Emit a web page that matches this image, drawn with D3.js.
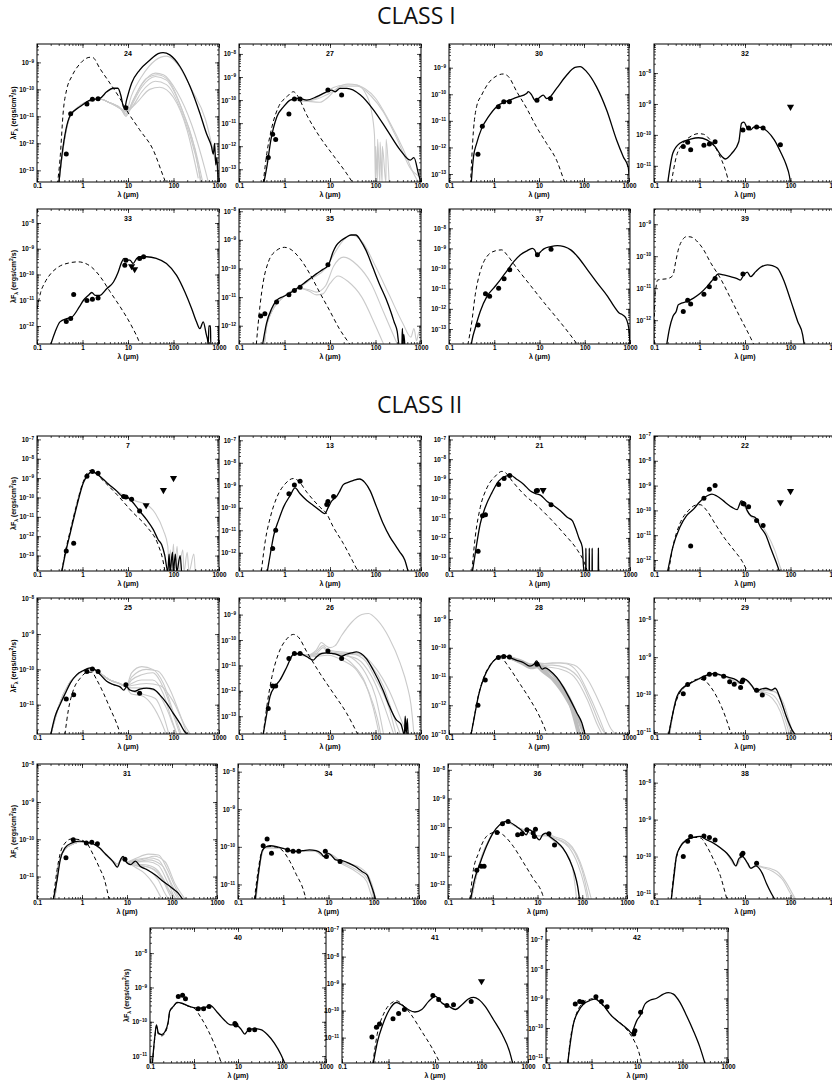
<!DOCTYPE html>
<html>
<head>
<meta charset="utf-8">
<script src="https://cdnjs.cloudflare.com/ajax/libs/d3/7.8.5/d3.min.js"></script>
<style>
  body { margin: 0; background: #fff; }
  svg { display: block; }
</style>
</head>
<body>
<svg id="chart" width="832" height="1088"></svg>
<script>
// ---------- shared axis values ----------
const xDomain = [0.1, 1000];
const xTickValues = [0.1, 1, 10, 100, 1000];
const xTickLabels = ["0.1", "1", "10", "100", "1000"];

// ---------- CLASS I ----------
// source 24
const yDom24 = [3.7e-14, 4.8e-9];
const fit24 = [[0.30,3e-14],[0.35,3.2e-13],[0.42,2.5e-12],[0.54,1.1e-11],[0.89,2.3e-11],[1.47,4.0e-11],[2.44,4.7e-11],[3.4,8.1e-11],[4.7,1.1e-10],[6.0,1.1e-10],[6.9,6.3e-11],[7.9,2.3e-11],[8.4,2.0e-11],[9.3,4.0e-11],[12,1.7e-10],[18,5.2e-10],[30,1.2e-9],[46,2.1e-9],[59,2.3e-9],[83,1.9e-9],[140,6.9e-10],[230,1.3e-10],[380,1.3e-11],[530,2.3e-12],[680,7.9e-13],[750,4e-13],[800,1e-12],[850,1.6e-13],[900,3e-13],[960,3e-14]];
const star24 = [[0.28,3e-14],[0.32,2.5e-13],[0.38,1.7e-11],[0.45,1.0e-10],[0.58,3.0e-10],[0.89,9.1e-10],[1.47,1.55e-9],[1.7,1.5e-9],[2.4,6.0e-10],[4.0,1.7e-10],[6.6,4.7e-11],[9.3,1.7e-11],[18,3.2e-12],[36,5.6e-13],[59,6.3e-14],[70,3e-14]];
const obs24 = [[0.44,4e-13],[0.55,1.25e-11],[1.25,2.9e-11],[1.65,4.3e-11],[2.2,4.5e-11],[9,2.1e-11]];
const lim24 = [];
const pre24 = [[0.3,3e-14],[0.36,4e-13],[0.55,1.1e-11],[1.5,3.8e-11],[2.5,4.3e-11],[4,3.2e-11],[7,1.9e-11]];
const tails24 = [
  [[9,1.5e-11],[12,6e-11],[20,3e-10],[40,1.2e-9],[70,1.7e-9],[120,9e-10],[250,1e-10],[500,8e-12],[800,3e-13],[1000,5e-14]],
  [[9,1.2e-11],[12,3e-11],[20,1.5e-10],[40,4e-10],[60,3.5e-10],[120,8e-11],[250,5e-12],[500,1e-13],[600,3e-14]],
  [[9,1e-11],[12,2.5e-11],[20,1.2e-10],[40,3e-10],[70,2.2e-10],[150,2e-11],[300,6e-13],[450,3e-14]],
  [[9,1.3e-11],[13,2.5e-11],[20,8e-11],[40,2e-10],[70,1.5e-10],[150,1.5e-11],[300,4e-13],[420,3e-14]],
  [[9,1.6e-11],[15,3e-11],[30,1e-10],[50,1.2e-10],[100,5e-11],[200,3e-12],[350,5e-14]],
  [[9,1.1e-11],[13,4e-11],[25,2.5e-10],[45,3.5e-10],[80,2e-10],[160,1.5e-11],[320,3e-13],[400,3e-14]]
];

// source 27
const yDom27 = [2.8e-14, 2.7e-8];
const fit27 = [[0.35,2.5e-14],[0.41,1.3e-13],[0.5,1.8e-12],[0.68,1.9e-11],[0.95,5.1e-11],[1.33,1.0e-10],[2.0,1.2e-10],[3.1,1.0e-10],[5.1,1.4e-10],[7.8,2.1e-10],[10.9,2.7e-10],[13,2.3e-10],[16.6,3.2e-10],[23.5,3.2e-10],[46,1.7e-10],[91,3.7e-11],[180,5e-12],[350,6.8e-13],[580,2.5e-13],[700,3.2e-13],[880,6.3e-14],[1000,2.5e-14]];
const star27 = [[0.34,2.5e-14],[0.41,5e-13],[0.53,6.9e-12],[0.74,5.1e-11],[1.13,1.4e-10],[1.57,2.3e-10],[1.87,1.7e-10],[3.1,2.2e-11],[6.0,2.5e-12],[11.8,4e-13],[23.5,6.3e-14],[32,2.5e-14]];
const obs27 = [[0.44,3.2e-13],[0.55,3.3e-12],[0.64,1.95e-12],[1.25,2.5e-11],[1.65,1.1e-10],[2.2,1.1e-10],[9,2.7e-10],[18,1.66e-10]];
const lim27 = [];
const alt27 = [
  [[1.5,1.0e-10],[3,9e-11],[5,1.2e-10],[8,2.2e-10],[12,3.5e-10],[20,4.5e-10],[35,4.5e-10],[60,3e-10],[100,1.2e-10],[200,1.2e-11],[400,8e-13],[700,6e-14],[900,2.5e-14]],
  [[1.5,1.0e-10],[3,9e-11],[6,8e-11],[9,1.3e-10],[15,3.5e-10],[25,5e-10],[40,4.5e-10],[60,2e-10],[80,4e-11],[95,3e-12],[100,2.5e-14],[101,1e-12],[110,2.5e-14],[111,2e-12],[125,2.5e-14],[126,1.5e-12],[140,2.5e-14],[141,1e-12],[170,2.5e-14],[171,2e-12],[200,2.5e-14]],
  [[1.5,1.0e-10],[4,1e-10],[9,1.8e-10],[20,4e-10],[40,4e-10],[80,1.5e-10],[150,3e-11],[300,2e-12],[600,1e-13],[900,5e-14]]
];

// source 30
const yDom30 = [5e-14, 7.8e-9];
const fit30 = [[0.31,4e-14],[0.35,4.4e-13],[0.41,1.4e-12],[0.53,5.1e-12],[0.75,1.4e-11],[1.14,3.4e-11],[1.91,5.5e-11],[3.2,7.6e-11],[5.3,1.07e-10],[5.8,1.26e-10],[6.9,9.3e-11],[8.1,6.0e-11],[9.6,6.9e-11],[12.4,9.3e-11],[14.8,6.9e-11],[17.5,7.9e-11],[24.6,1.66e-10],[41,5.2e-10],[63,1.02e-9],[82,1.1e-9],[114,7.1e-10],[190,1.9e-10],[320,2.5e-11],[530,1.9e-12],[750,4.4e-13],[960,1.8e-13],[1000,1e-13]];
const star30 = [[0.3,4e-14],[0.35,4.5e-12],[0.41,3.4e-11],[0.53,9.3e-11],[0.75,2.6e-10],[1.14,4.9e-10],[1.6,5.8e-10],[2.1,4.6e-10],[3.2,1.26e-10],[5.3,3.0e-11],[8.8,5.9e-12],[14.8,1.4e-12],[24.6,3.3e-13],[37,5e-14],[40,3.5e-14]];
const obs30 = [[0.44,5.5e-13],[0.55,6.3e-12],[1.25,3.4e-11],[1.65,5.2e-11],[2.2,5.2e-11],[9,6.0e-11],[18,6.9e-11]];
const lim30 = [];

// source 32
const yDom32 = [3e-12, 8.7e-8];
const fit32 = [[0.2,2.8e-12],[0.26,2.6e-11],[0.37,5.4e-11],[0.62,7.2e-11],[0.95,8.1e-11],[1.45,6.9e-11],[2.2,4.2e-11],[3.1,2.0e-11],[3.7,1.66e-11],[5.2,2.6e-11],[7.3,6.0e-11],[8.4,2.4e-10],[9.5,2.6e-10],[11.2,1.66e-10],[13.3,1.45e-10],[15.8,1.8e-10],[22,1.74e-10],[31,1.3e-10],[44,6.9e-11],[62,2.6e-11],[80,1.1e-11],[95,4.6e-12],[100,2.8e-12]];
const star32 = [[0.24,2.8e-12],[0.31,2.0e-11],[0.44,5.4e-11],[0.67,9.3e-11],[0.95,1.1e-10],[1.23,1.05e-10],[1.72,6.9e-11],[2.6,2.6e-11],[3.7,7.4e-12],[4.4,3.2e-12],[4.8,2.5e-12]];
const obs32 = [[0.44,4.2e-11],[0.55,5.8e-11],[0.64,3.3e-11],[1.25,4.6e-11],[1.65,5.1e-11],[2.2,6.0e-11],[9,1.45e-10],[12,1.66e-10],[18,1.8e-10],[25,1.66e-10],[60,4.8e-11]];
const lim32 = [[100,8.1e-10]];

// source 33
const yDom33 = [2.0e-13, 3.5e-8];
const fit33 = [[0.2,1.9e-13],[0.25,5.9e-13],[0.32,1.45e-12],[0.45,1.95e-12],[0.58,2.2e-12],[0.85,5.5e-12],[1.05,1.0e-11],[1.35,1.55e-11],[1.6,2.0e-11],[1.9,1.55e-11],[2.4,1.55e-11],[3.4,2.8e-11],[4.8,5.1e-11],[6.1,1.26e-10],[7.3,3.1e-10],[8.2,4.2e-10],[9.3,3.6e-10],[11,3.6e-10],[13,2.7e-10],[15.5,4.2e-10],[18.3,4.9e-10],[25.6,4.9e-10],[42,4.2e-10],[70,2.7e-10],[117,9.3e-11],[178,2.1e-11],[250,4.8e-12],[320,1.45e-12],[380,7.9e-13],[450,1.45e-12],[530,4.4e-13],[560,3e-13],[580,1.9e-13],[600,1e-12],[650,1e-12],[660,1.9e-13],[980,1.9e-13],[990,1e-12],[1000,1.9e-13]];
const star33 = [[0.1,4.5e-12],[0.12,2.0e-11],[0.15,5.0e-11],[0.2,1.07e-10],[0.3,2.0e-10],[0.5,2.8e-10],[0.8,3.1e-10],[1.1,2.8e-10],[1.6,1.9e-10],[2.5,7.9e-11],[4,2.2e-11],[7,5.0e-12],[12,1.0e-12],[18,2.2e-13],[20,1.3e-13]];
const obs33 = [[0.44,1.5e-12],[0.55,1.95e-12],[0.64,1.66e-11],[1.25,9.8e-12],[1.65,1.1e-11],[2.2,1.23e-11],[8.5,2.3e-10],[9,3.6e-10],[18,4.2e-10],[22,4.9e-10]];
const lim33 = [[12,2.1e-10],[14,1.6e-10]];

// source 35
const yDom35 = [2.3e-13, 1.2e-8];
const fit35 = [[0.33,2.2e-13],[0.4,1.17e-12],[0.52,3.9e-12],[0.67,7.6e-12],[0.94,1.05e-11],[1.31,1.38e-11],[1.83,1.95e-11],[2.6,2.95e-11],[3.6,4.4e-11],[5.0,6.5e-11],[7.0,9.3e-11],[9.0,1.26e-10],[9.8,1.66e-10],[11.6,3.7e-10],[13.7,6.3e-10],[17.6,9.5e-10],[22.6,1.23e-9],[29,1.48e-9],[37,1.48e-9],[47,9.5e-10],[62,4.3e-10],[87,1.12e-10],[121,2.95e-11],[170,8.7e-12],[218,3.0e-12],[257,1.35e-12],[300,6.3e-13],[330,2.2e-13],[380,2.2e-13],[390,8e-13],[400,2.2e-13],[420,5e-13],[440,2.2e-13]];
const star35 = [[0.24,2.2e-13],[0.29,5.1e-12],[0.34,3.3e-11],[0.44,1.66e-10],[0.67,4.3e-10],[1.0,5.5e-10],[1.3,4.9e-10],[2.2,2.2e-10],[3.6,6.5e-11],[5.9,1.48e-11],[9.8,3.4e-12],[16,7.9e-13],[27,2.3e-13],[30,1.8e-13]];
const obs35 = [[0.3,2.2e-12],[0.37,2.6e-12],[0.67,6.8e-12],[1.25,1.2e-11],[1.65,1.7e-11],[2.2,2.2e-11],[9,1.35e-10]];
const lim35 = [];
const alt35 = [
  [[0.36,2.3e-13],[0.42,1.3e-12],[1,1.1e-11],[2.2,2.2e-11],[4,4.5e-11],[8,1e-10],[12,3e-10],[20,1e-9],[30,1.5e-9],[50,9e-10],[100,1.2e-10],[200,1.2e-11],[400,1.2e-12],[600,4e-13],[700,8e-13],[800,3e-13],[900,6e-13],[1000,2.3e-13]],
  [[0.36,2.3e-13],[0.42,1.3e-12],[1,1.1e-11],[2.2,2e-11],[3.5,1.8e-11],[5,1.5e-11],[8,2.5e-11],[12,1.2e-10],[20,2.5e-10],[40,1.3e-10],[80,3e-11],[150,3e-12],[300,2.3e-13]],
  [[0.36,2.3e-13],[0.42,1.3e-12],[1,1.1e-11],[2.2,2e-11],[3.5,1.6e-11],[5,1.2e-11],[7,1.3e-11],[10,3e-11],[15,5.5e-11],[25,3.5e-11],[50,1e-11],[100,1e-12],[150,2.3e-13]]
];

// source 37
const yDom37 = [1.8e-14, 9.1e-8];
const fit37 = [[0.31,1.6e-14],[0.32,2.5e-14],[0.38,1.12e-13],[0.49,7.4e-13],[0.69,4.2e-12],[0.97,1.07e-11],[1.36,2.75e-11],[1.91,7.8e-11],[2.7,2.2e-10],[3.8,4.8e-10],[5.3,7.6e-10],[6.9,1.02e-9],[7.8,8.5e-10],[8.9,4.8e-10],[10.6,6.9e-10],[12.5,9.5e-10],[17.6,1.23e-9],[24.8,1.38e-9],[35,1.23e-9],[49,8.5e-10],[69,4.0e-10],[115,8.7e-11],[190,1.9e-11],[320,4.2e-12],[445,1.32e-12],[575,6.2e-13],[680,5.1e-13],[810,3.5e-13],[960,7.9e-14],[1000,1.5e-14]];
const star37 = [[0.26,1.6e-14],[0.32,2.4e-13],[0.38,5e-12],[0.49,7.1e-11],[0.69,4.0e-10],[1.05,7.6e-10],[1.47,8.5e-10],[1.91,4.8e-10],[3.2,1.0e-10],[6.4,1.4e-11],[12.5,2.1e-12],[25,3.2e-13],[50,4.5e-14],[70,1.6e-14]];
const obs37 = [[0.44,1.6e-13],[0.64,5.6e-12],[0.79,4.2e-12],[1.25,1.07e-11],[1.65,3.1e-11],[2.2,8.7e-11],[9,4.8e-10],[18,9.1e-10]];
const lim37 = [];

// source 39
const yDom39 = [1.8e-13, 3.0e-9];
const fit39 = [[0.19,1.7e-13],[0.22,5.6e-13],[0.26,1.3e-12],[0.31,1.95e-12],[0.34,3.0e-12],[0.4,3.4e-12],[0.52,3.8e-12],[0.74,4.9e-12],[1.04,6.9e-12],[1.46,1.12e-11],[2.05,2.0e-11],[2.6,2.8e-11],[3.4,2.6e-11],[4.8,2.3e-11],[6.7,2.0e-11],[7.9,1.8e-11],[9.4,2.6e-11],[11.2,3.2e-11],[13.3,2.3e-11],[17.2,3.3e-11],[22,4.5e-11],[31,5.4e-11],[40,5.1e-11],[52,4.2e-11],[73,1.6e-11],[103,3.8e-12],[144,9.1e-13],[185,3.5e-13],[200,1.7e-13]];
const star39 = [[0.1,1.7e-13],[0.105,6e-12],[0.11,1.0e-11],[0.12,1.8e-11],[0.15,1.9e-11],[0.2,2.0e-11],[0.26,2.5e-11],[0.3,6.8e-11],[0.35,1.8e-10],[0.42,3.2e-10],[0.52,4.1e-10],[0.65,4.0e-10],[0.87,3.0e-10],[1.23,1.6e-10],[1.7,6.8e-11],[2.9,2.0e-11],[4.8,4.9e-12],[8,1.15e-12],[13.3,2.8e-13],[16,1.6e-13]];
const obs39 = [[0.44,1.86e-12],[0.55,4.2e-12],[0.64,3.2e-12],[1.25,6.5e-12],[1.65,1.12e-11],[2.2,2.0e-11],[9,2.8e-11]];
const lim39 = [];

// ---------- CLASS II ----------
// source 7
const yDom7 = [1.6e-14, 1.5e-7];
const fit7 = [[0.35,1.5e-14],[0.42,1.3e-13],[0.54,1.5e-12],[0.75,3.6e-11],[1.05,6.0e-10],[1.29,1.35e-9],[1.6,2.2e-9],[2.05,1.66e-9],[2.8,9.1e-10],[3.7,5.0e-10],[5.6,2.2e-10],[7.3,1.23e-10],[9.3,1.12e-10],[12,6.6e-11],[18,2.0e-11],[25.6,7.2e-12],[36,2.2e-12],[46,6.6e-13],[55,3.6e-13],[64,1.07e-13],[75,1.5e-14],[80,1.2e-13],[84,1.5e-14],[95,1.5e-13],[99,1.5e-14],[110,1.2e-13],[118,1.5e-14],[140,1e-13],[150,1.5e-14]];
const star7 = [[0.35,1.5e-14],[0.42,1.6e-13],[0.54,2.0e-12],[0.75,4.5e-11],[1.05,7.0e-10],[1.47,2.5e-9],[1.75,2.2e-9],[2.5,1.0e-9],[5.6,1.48e-10],[13,1.62e-11],[25.6,3.2e-12],[46,3.6e-13],[58,6.3e-14],[65,1.5e-14]];
const obs7 = [[0.44,1.74e-13],[0.64,4.4e-13],[1.25,1.26e-9],[1.65,2.2e-9],[2.2,1.8e-9],[8,1.12e-10],[9,1.07e-10],[12,8.1e-11],[18,2.0e-11]];
const lim7 = [[25,4.0e-11],[60,2.4e-10],[100,1.0e-9]];
const alt7 = [
  [[0.36,1.5e-14],[0.5,8e-13],[1,5e-10],[1.6,2.2e-9],[3,8e-10],[6,2e-10],[9,1.15e-10],[15,6.5e-11],[25,4.5e-11],[40,1.5e-11],[60,2e-12],[75,3e-13],[80,1.5e-14],[85,2e-13],[90,1.5e-14],[100,4e-13],[105,1.5e-14],[120,3e-13],[130,1.5e-14],[160,2e-13],[170,1.5e-14],[200,1.5e-13],[220,1.5e-14],[280,1.2e-13],[300,1.5e-14]]
];

// source 13
const yDom13 = [1.55e-13, 1.55e-7];
const fit13 = [[0.42,1.5e-13],[0.49,9.3e-13],[0.58,6.0e-12],[0.74,2.75e-11],[0.95,1.07e-10],[1.33,3.5e-10],[1.71,7.6e-10],[2.2,4.2e-10],[3.1,2.1e-10],[4.3,1.26e-10],[6.0,7.6e-11],[7.7,5.5e-11],[9.2,1.07e-10],[10.8,1.95e-10],[14,3.2e-10],[16.6,5.8e-10],[19.6,1.07e-9],[25,1.35e-9],[32,1.62e-9],[45,1.9e-9],[58,1.35e-9],[76,5.8e-10],[106,1.07e-10],[148,1.95e-11],[207,5.1e-12],[290,1.8e-12],[340,1.1e-12],[440,4.8e-13],[520,1.5e-13]];
const star13 = [[0.31,1.5e-13],[0.38,3.6e-12],[0.49,3.9e-11],[0.68,2.95e-10],[1.03,1.15e-9],[1.57,2.0e-9],[2.0,1.6e-9],[3.1,4.9e-10],[6.0,1.07e-10],[8.4,5.5e-11],[11.8,1.4e-11],[19.6,2.6e-12],[32,4e-13],[41,1.5e-13]];
const obs13 = [[0.55,1.55e-12],[0.64,1.0e-11],[1.25,4.2e-10],[1.65,1.02e-9],[2.2,1.5e-9],[8.5,1.4e-10],[9,1.9e-10],[12,3.2e-10]];
const lim13 = [];

// source 21
const yDom21 = [2.1e-14, 1.5e-7];
const fit21 = [[0.33,2e-14],[0.38,1.66e-13],[0.49,5.2e-12],[0.63,3.5e-11],[0.89,2.0e-10],[1.25,7.6e-10],[1.75,1.35e-9],[2.3,1.5e-9],[3.2,9.3e-10],[4.5,5.2e-10],[6.3,2.4e-10],[8.1,1.8e-10],[10.5,1.5e-10],[14.8,7.1e-11],[20.7,4.3e-11],[29,2.4e-11],[41,1.12e-11],[53,7.6e-12],[63,3.0e-12],[75,9.3e-13],[88,3.5e-13],[96,2e-14],[105,2e-14],[106,3e-13],[107,2e-14],[125,2e-14],[126,3e-13],[127,2e-14],[145,2e-14],[146,3e-13],[147,2e-14],[198,2e-14],[200,3e-13],[202,2e-14]];
const star21 = [[0.32,2e-14],[0.38,1.12e-12],[0.49,3.5e-11],[0.69,3.5e-10],[1.05,1.35e-9],[1.47,2.4e-9],[1.75,2.1e-9],[2.5,7.6e-10],[4.5,1.66e-10],[8.9,4.3e-11],[17.5,9.3e-12],[34.6,1.66e-12],[69,2.4e-13],[96,6.3e-14],[115,2e-14]];
const obs21 = [[0.44,2.1e-13],[0.55,1.35e-11],[0.64,1.5e-11],[1.25,5.2e-10],[1.65,1.05e-9],[2.2,1.5e-9],[8.5,2.5e-10],[9,2.6e-10],[18,4.8e-11]];
const lim21 = [[12,2.7e-10]];

// source 22
const yDom22 = [3.6e-13, 1e-7];
const fit22 = [[0.2,3.5e-13],[0.26,3.4e-12],[0.37,2.1e-11],[0.52,6.2e-11],[0.74,1.12e-10],[1.03,2.3e-10],[1.45,3.8e-10],[1.87,4.5e-10],[2.4,3.8e-10],[3.7,2.1e-10],[5.2,1.32e-10],[6.7,1.07e-10],[8.3,2.4e-10],[9.5,2.1e-10],[11.2,9.8e-11],[13.3,6.2e-11],[17.2,5e-11],[22,2.1e-11],[28.8,1e-11],[37,2.9e-12],[48,8.5e-13],[57,3.5e-13]];
const star22 = [[0.21,3.5e-13],[0.26,3.4e-12],[0.37,2.9e-11],[0.57,9.8e-11],[0.81,1.62e-10],[1.03,1.7e-10],[1.45,9.8e-11],[2.2,2.9e-11],[3.4,8.5e-12],[5.7,2.5e-12],[8.8,8.5e-13],[11.2,3.5e-13]];
const obs22 = [[0.64,3.7e-12],[1.25,3.1e-10],[1.65,7.1e-10],[2.2,1.0e-9],[9,1.9e-10],[9.5,1.8e-10],[12,1.41e-10],[18,3.9e-11],[25,2.45e-11]];
const lim22 = [[60,2.1e-10],[100,6.0e-10]];
const alt22 = [
  [[9,1.9e-10],[13,6e-11],[20,3.5e-11],[30,1.2e-11],[45,2.5e-12],[60,5e-13],[65,3.5e-13]]
];

// source 25
const yDom25 = [1.48e-12, 1.05e-8];
const fit25 = [[0.2,1.4e-12],[0.25,4.7e-12],[0.32,1.0e-11],[0.42,2.1e-11],[0.54,4.1e-11],[0.75,7.1e-11],[1.05,9.3e-11],[1.47,1.1e-10],[1.9,9.8e-11],[2.45,7.1e-11],[3.4,4.6e-11],[4.8,3.7e-11],[6.7,3.2e-11],[8.1,2.6e-11],[9.3,3.2e-11],[11,2.6e-11],[14,2.4e-11],[18.3,2.75e-11],[25.6,2.95e-11],[36,2.75e-11],[50,1.9e-11],[70,1.12e-11],[98,5.8e-12],[137,3.0e-12],[175,1.74e-12],[208,1.4e-12]];
const star25 = [[0.41,1.4e-12],[0.49,7.2e-12],[0.63,2.6e-11],[0.89,5.6e-11],[1.29,8.3e-11],[1.6,8.3e-11],[2.05,5.1e-11],[2.9,2.1e-11],[4.0,8.1e-12],[5.6,3.0e-12],[6.9,1.4e-12]];
const obs25 = [[0.44,1.45e-11],[0.64,1.9e-11],[1.25,8.7e-11],[1.65,1.02e-10],[2.2,8.7e-11],[9,3.7e-11],[18,2.1e-11]];
const lim25 = [];
const pre25 = [[0.2,1.4e-12],[0.3,9e-12],[0.5,3.8e-11],[1,9e-11],[1.6,1.08e-10],[2.5,7.5e-11],[4,5e-11],[7,3.8e-11],[9,3.2e-11]];
const tails25 = [
  [[12,8e-11],[20,1.2e-10],[35,1e-10],[60,4e-11],[100,6e-12],[150,1.4e-12]],
  [[12,5e-11],[20,7e-11],[35,8e-11],[60,3e-11],[100,5e-12],[140,1.4e-12]],
  [[12,4e-11],[20,5e-11],[35,5e-11],[60,2e-11],[90,4e-12],[120,1.4e-12]],
  [[12,3e-11],[20,3e-11],[40,2.5e-11],[70,8e-12],[100,2.5e-12],[120,1.4e-12]],
  [[12,2.5e-11],[20,2e-11],[40,1.5e-11],[60,5e-12],[80,1.4e-12]],
  [[12,3.5e-11],[25,4e-11],[50,3.5e-11],[100,1.2e-11],[180,2.5e-12],[240,1.4e-12]],
  [[12,6e-11],[25,1e-10],[45,9e-11],[80,3e-11],[150,4e-12],[200,1.4e-12]],
  [[12,2e-11],[20,1.8e-11],[30,1.2e-11],[50,4e-12],[70,1.4e-12]]
];

// source 26
const yDom26 = [2.0e-14, 4.5e-9];
const fit26 = [[0.34,1.9e-14],[0.41,1.35e-13],[0.48,6.0e-13],[0.62,1.48e-12],[0.8,2.7e-12],[1.13,8.9e-12],[1.57,2.75e-11],[2.2,2.95e-11],[3.1,2.2e-11],[4.3,1.62e-11],[5.1,2.2e-11],[6.6,2.95e-11],[8.4,3.1e-11],[10.8,2.95e-11],[13.9,2.75e-11],[17.8,2.3e-11],[23,2.75e-11],[29.6,3.1e-11],[38,3.4e-11],[48,2.95e-11],[63,1.86e-11],[89,6.6e-12],[145,1.1e-12],[203,2.45e-13],[284,7.4e-14],[365,4.8e-14],[430,1.9e-14],[450,1e-13],[470,1.9e-14],[500,8e-14],[520,1.9e-14]];
const star26 = [[0.34,1.9e-14],[0.41,2.5e-13],[0.53,3.6e-12],[0.74,2.95e-11],[1.13,1.12e-10],[1.57,1.66e-10],[2.0,1.32e-10],[3.1,3.4e-11],[6.0,4.9e-12],[11.8,8.1e-13],[23,1.35e-13],[41,1.9e-14]];
const obs26 = [[0.44,2.0e-13],[0.55,1.55e-12],[0.64,1.55e-12],[1.25,1.86e-11],[1.65,2.95e-11],[2.2,2.95e-11],[9,3.7e-11],[18,1.86e-11]];
const lim26 = [];
const alt26 = [
  [[1.6,2.8e-11],[3,2.5e-11],[5,4e-11],[6.5,8e-11],[8,6e-11],[10,5e-11],[13,6e-11],[18,1.5e-10],[30,5e-10],[50,1e-9],[70,1.1e-9],[110,6e-10],[200,1.2e-10],[350,1.2e-11],[500,1.5e-12],[600,3e-13],[700,2e-14]],
  [[1.6,2.8e-11],[3,2.5e-11],[5,3.5e-11],[7,6e-11],[9,4e-11],[15,3.5e-11],[30,3e-11],[60,1.5e-11],[100,3e-12],[200,2e-13],[280,2e-14]],
  [[1.6,2.8e-11],[3,2.5e-11],[5,3e-11],[7,5e-11],[9,3.5e-11],[15,3e-11],[30,2e-11],[60,5e-12],[100,6e-13],[150,2e-14]],
  [[1.6,2.8e-11],[3,2.5e-11],[6,3e-11],[9,3e-11],[15,2.5e-11],[30,1.2e-11],[60,2e-12],[90,2e-13],[120,2e-14]],
  [[1.6,2.8e-11],[4,2.5e-11],[9,3.2e-11],[20,3e-11],[40,3e-11],[80,1e-11],[150,1.5e-12],[250,1e-13],[350,2e-14]],
  [[1.6,2.8e-11],[4,2.5e-11],[9,3e-11],[20,2.5e-11],[40,1.8e-11],[80,4e-12],[150,3e-13],[250,2e-14]],
  [[1.6,2.8e-11],[4,2.2e-11],[9,2.5e-11],[20,1.5e-11],[40,6e-12],[70,1e-12],[110,8e-14],[130,2e-14]],
  [[1.6,2.8e-11],[4,2.5e-11],[9,3e-11],[20,2.8e-11],[50,2.5e-11],[100,8e-12],[200,1e-12],[400,5e-14],[500,2e-14]]
];

// source 28
const yDom28 = [1.0e-13, 5.4e-9];
const fit28 = [[0.31,1e-13],[0.37,4.3e-13],[0.45,2.1e-12],[0.58,8.1e-12],[0.83,2.5e-11],[1.15,4.3e-11],[1.6,5.2e-11],[2.2,4.6e-11],[3.0,3.8e-11],[4.4,3.1e-11],[6.3,2.3e-11],[7.8,2.7e-11],[8.8,3.5e-11],[9.9,2.7e-11],[11.8,1.8e-11],[13.7,2.0e-11],[17.6,1.6e-11],[24.8,9.3e-12],[35,4.2e-12],[49,1.6e-12],[69,5.5e-13],[89,2.5e-13],[105,1e-13]];
const star28 = [[0.31,1e-13],[0.37,4.5e-13],[0.45,2.2e-12],[0.58,8.5e-12],[0.83,2.6e-11],[1.36,4.6e-11],[2.2,2.0e-11],[3.6,6.2e-12],[6.3,1.6e-12],[10.6,3.7e-13],[13.7,1.45e-13],[15,1e-13]];
const obs28 = [[0.44,1.0e-12],[0.64,7.6e-12],[1.25,4.6e-11],[1.65,5.0e-11],[2.2,4.8e-11],[9,2.7e-11]];
const lim28 = [];
const band28 = [
  [[2.2,4.6e-11],[4,3.5e-11],[7,2.5e-11],[9,2.8e-11],[12,2.2e-11],[20,1.2e-11],[35,4e-12],[60,8e-13],[90,1.5e-13],[100,1e-13]],
  [[2.2,4.6e-11],[4,3.2e-11],[7,2.2e-11],[9,2.5e-11],[12,1.8e-11],[20,8e-12],[35,2.5e-12],[60,5e-13],[80,1e-13]],
  [[2.2,4.6e-11],[4,3e-11],[7,2e-11],[9,2.2e-11],[12,1.5e-11],[25,6e-12],[50,1e-12],[75,1e-13]]
];
const alt28 = [
  [[2.2,4.6e-11],[4,3.3e-11],[7,2.3e-11],[9,3e-11],[12,2.8e-11],[20,3e-11],[40,2.8e-11],[70,1.5e-11],[120,3e-12],[200,5e-13],[300,1e-13]],
  [[2.2,4.6e-11],[4,3.3e-11],[7,2.3e-11],[9,3e-11],[12,2.5e-11],[20,2.5e-11],[40,2e-11],[80,8e-12],[150,1e-12],[250,1.5e-13],[300,1e-13]],
  [[2.2,4.6e-11],[4,3.3e-11],[7,2.3e-11],[9,3e-11],[15,2.2e-11],[30,1.8e-11],[60,1e-11],[120,1.5e-12],[200,2e-13],[250,1e-13]],
  [[2.2,4.6e-11],[4,3.3e-11],[7,2.3e-11],[9,3e-11],[15,2.8e-11],[30,3e-11],[60,2.5e-11],[120,8e-12],[250,8e-13],[400,1.5e-13],[500,1e-13]]
];

// source 29
const yDom29 = [8.9e-12, 3.8e-8];
const fit29 = [[0.21,8.5e-12],[0.26,3.2e-11],[0.32,8.9e-11],[0.42,1.48e-10],[0.62,2.0e-10],[1.0,2.7e-10],[1.45,3.3e-10],[2.1,3.7e-10],[3.0,3.3e-10],[4.4,2.9e-10],[6.5,2.45e-10],[8.2,2.0e-10],[9.9,2.6e-10],[12,2.2e-10],[14.7,1.62e-10],[17.7,1.2e-10],[21.7,1.38e-10],[28.8,1.48e-10],[38,1.32e-10],[46,1.48e-10],[61,7.2e-11],[81,2.6e-11],[108,1.15e-11],[128,8.5e-12]];
const star29 = [[0.21,8.5e-12],[0.26,3.2e-11],[0.35,1.0e-10],[0.57,1.9e-10],[0.94,2.6e-10],[1.25,2.45e-10],[1.75,1.62e-10],[2.6,7.2e-11],[3.7,2.6e-11],[5,8.5e-12]];
const obs29 = [[0.44,1.05e-10],[0.55,1.86e-10],[1.25,2.8e-10],[1.65,3.5e-10],[2.2,3.5e-10],[3.4,3.1e-10],[4.6,2.2e-10],[5.8,1.9e-10],[8,1.55e-10],[8.6,2.2e-10],[9,2.45e-10],[18,1.32e-10],[24,9.8e-11]];
const lim29 = [];
const pre29 = [[0.22,8.5e-12],[0.3,7e-11],[0.5,1.7e-10],[1,2.6e-10],[2,3.5e-10],[4,2.9e-10],[8,2e-10],[10,2.5e-10],[13,1.9e-10]];
const tails29 = [
  [[18,1.3e-10],[25,1.2e-10],[40,1e-10],[60,5e-11],[80,1.8e-11],[95,8.5e-12]],
  [[18,1.2e-10],[25,1.1e-10],[40,8e-11],[60,3.5e-11],[75,1.5e-11],[85,8.5e-12]],
  [[18,1.3e-10],[25,1.3e-10],[45,1.2e-10],[70,6e-11],[100,1.5e-11],[115,8.5e-12]],
  [[18,1.4e-10],[30,1.4e-10],[50,1.1e-10],[70,4.5e-11],[90,1.6e-11],[105,8.5e-12]]
];

// source 31
const yDom31 = [2.5e-12, 1.05e-8];
const fit31 = [[0.23,2.4e-12],[0.28,8.3e-12],[0.33,2.9e-11],[0.42,5.9e-11],[0.58,7.9e-11],[0.89,8.9e-11],[1.27,8.3e-11],[1.77,7.6e-11],[2.45,5.9e-11],[3.4,3.9e-11],[4.8,2.6e-11],[6.1,1.8e-11],[7.3,2.95e-11],[8.2,3.5e-11],[9.3,2.6e-11],[12,2.1e-11],[15.3,2.6e-11],[19.6,1.9e-11],[27.3,1.55e-11],[42,1.12e-11],[64,7.4e-12],[98,5.0e-12],[137,3.6e-12],[175,2.4e-12]];
const star31 = [[0.23,2.4e-12],[0.28,1.55e-11],[0.33,4.3e-11],[0.42,7.9e-11],[0.58,1.02e-10],[0.89,9.8e-11],[1.27,7.9e-11],[1.77,3.9e-11],[2.45,1.7e-11],[3.15,8.3e-12],[4.0,2.4e-12]];
const obs31 = [[0.44,3.2e-11],[0.64,9.8e-11],[1.25,7.9e-11],[1.65,8.3e-11],[2.2,7.6e-11],[9,2.9e-11]];
const lim31 = [];
const pre31 = [[0.25,2.4e-12],[0.3,2e-11],[0.45,6e-11],[1,8.5e-11],[2,7e-11],[3.5,3.8e-11],[6,2.2e-11],[8.5,3.2e-11],[10,2.5e-11]];
const tails31 = [
  [[15,3e-11],[30,4e-11],[50,3.8e-11],[80,1.5e-11],[120,5e-12],[170,2.4e-12]],
  [[15,2.8e-11],[30,3.2e-11],[50,2.8e-11],[80,1e-11],[110,4e-12],[140,2.4e-12]],
  [[15,2.5e-11],[30,2.5e-11],[50,2e-11],[80,7e-12],[110,3e-12],[120,2.4e-12]],
  [[15,2.2e-11],[30,2e-11],[50,1.4e-11],[70,6e-12],[100,2.4e-12]],
  [[15,2e-11],[30,1.5e-11],[50,8e-12],[70,3.5e-12],[85,2.4e-12]],
  [[15,1.8e-11],[25,1.2e-11],[40,6e-12],[60,2.4e-12]],
  [[15,2.6e-11],[25,3e-11],[40,3.5e-11],[70,2.5e-11],[120,6e-12],[200,2.4e-12]],
  [[15,2.4e-11],[30,2.8e-11],[60,2e-11],[100,6e-12],[150,2.4e-12]],
  [[15,2e-11],[30,1.8e-11],[60,1e-11],[90,4e-12],[130,2.4e-12]],
  [[15,2.2e-11],[40,1.5e-11],[80,5e-12],[110,2.4e-12]]
];

// source 34
const yDom34 = [4.1e-12, 1.6e-8];
const fit34 = [[0.24,4e-12],[0.29,2.45e-11],[0.34,7.6e-11],[0.4,9.8e-11],[0.51,1.07e-10],[0.71,1.02e-10],[1.0,9.1e-11],[1.4,7.9e-11],[1.95,7.6e-11],[2.7,7.9e-11],[3.8,8.3e-11],[5.3,7.9e-11],[6.8,6.8e-11],[8.1,5.4e-11],[9.5,6.8e-11],[11.2,6.2e-11],[14.4,4.5e-11],[20,4.3e-11],[28,3.7e-11],[39,3.0e-11],[55,2.2e-11],[71,1.8e-11],[84,1.1e-11],[100,5.9e-12],[110,4e-12]];
const star34 = [[0.23,4e-12],[0.28,2.45e-11],[0.32,6.2e-11],[0.4,9.8e-11],[0.51,1.02e-10],[0.71,9.8e-11],[1.0,7.6e-11],[1.4,4.1e-11],[1.95,1.82e-11],[2.7,8e-12],[3.2,4e-12]];
const obs34 = [[0.36,1.07e-10],[0.44,1.62e-10],[0.55,6.8e-11],[1.25,8.3e-11],[1.65,7.6e-11],[2.2,7.6e-11],[8.5,7.6e-11],[9,5.5e-11],[18,4.1e-11]];
const lim34 = [];
const pre34 = [[0.25,4e-12],[0.3,3e-11],[0.4,9.5e-11],[1,9e-11],[2,7.5e-11],[5,7.8e-11],[8,5.5e-11]];
const tails34 = [
  [[10,6.5e-11],[20,3.8e-11],[40,2.5e-11],[70,1.5e-11],[90,8e-12],[100,4e-12]],
  [[10,6e-11],[20,3.5e-11],[40,2.2e-11],[70,1.2e-11],[85,6e-12],[95,4e-12]],
  [[10,6.5e-11],[20,4e-11],[50,2.8e-11],[80,1.5e-11],[100,7e-12],[110,4e-12]]
];

// source 36
const yDom36 = [3.1e-13, 1.6e-8];
const fit36 = [[0.32,3e-13],[0.39,1.45e-12],[0.52,5.5e-12],[0.72,2.1e-11],[1.01,6.2e-11],[1.42,1.2e-10],[2.0,1.58e-10],[2.4,1.48e-10],[3.4,1.05e-10],[4.7,7.1e-11],[5.6,5.4e-11],[6.6,8.1e-11],[8.2,6.2e-11],[9.3,4.7e-11],[11,3.6e-11],[13,5.4e-11],[15.3,6.2e-11],[18.8,4.7e-11],[26,3.2e-11],[37,1.86e-11],[52,7.2e-12],[67,2.5e-12],[79,8.5e-13],[87,3e-13]];
const star36 = [[0.31,3e-13],[0.36,2.5e-12],[0.48,1.23e-11],[0.68,4.2e-11],[1.01,6.5e-11],[1.2,7.1e-11],[1.7,5.4e-11],[2.9,2.1e-11],[4.7,6.3e-12],[7.9,1.66e-12],[13,4.4e-13],[14,3e-13]];
const obs36 = [[0.44,3.1e-12],[0.55,4.3e-12],[0.64,4.3e-12],[1.25,6.5e-11],[1.65,1.32e-10],[2.2,1.58e-10],[3.6,5.4e-11],[4.5,5.9e-11],[5.8,8.1e-11],[8,6.2e-11],[8.5,4.7e-11],[9,8.5e-11],[18,5.9e-11],[24,2.4e-11]];
const lim36 = [];
const pre36 = [[0.33,3e-13],[0.5,5e-12],[1,6e-11],[2,1.5e-10],[3.5,1e-10],[6,7e-11],[9,5e-11],[12,5e-11]];
const tails36 = [
  [[15,6e-11],[25,4.5e-11],[40,3.5e-11],[60,2e-11],[90,6e-12],[130,1e-12],[160,3e-13]],
  [[15,5.5e-11],[25,4e-11],[40,3e-11],[70,1.2e-11],[100,3e-12],[140,3e-13]],
  [[15,5e-11],[30,3.5e-11],[50,2e-11],[80,5e-12],[110,1e-12],[130,3e-13]],
  [[15,5e-11],[25,3e-11],[40,1.5e-11],[60,4e-12],[75,3e-13]]
];

// source 38
const yDom38 = [7.1e-12, 3.2e-8];
const fit38 = [[0.24,7e-12],[0.28,3.5e-11],[0.31,1.0e-10],[0.38,1.86e-10],[0.52,2.8e-10],[0.74,3.3e-10],[1.04,3.5e-10],[1.46,2.8e-10],[2.05,2.3e-10],[2.9,1.7e-10],[4.0,1.23e-10],[5.2,8.1e-11],[6.3,5.6e-11],[7.4,8.9e-11],[8.8,1.0e-10],[11.4,6.6e-11],[13.5,4.8e-11],[17.3,5.6e-11],[20.5,4.8e-11],[24,3.5e-11],[30,1.8e-11],[38,1e-11],[45,7e-12]];
const star38 = [[0.24,7e-12],[0.28,4.4e-11],[0.34,1.38e-10],[0.48,2.6e-10],[0.74,3.3e-10],[1.04,3.2e-10],[1.46,1.86e-10],[2.05,8.1e-11],[2.9,2.9e-11],[3.7,1.0e-11],[4.0,7e-12]];
const obs38 = [[0.44,1.0e-10],[0.55,2.6e-10],[0.64,3.5e-10],[1.25,3.6e-10],[1.65,3.3e-10],[2.2,2.8e-10],[8.5,1.12e-10],[9,1.23e-10],[18,6.6e-11]];
const lim38 = [];
const pre38 = [[0.24,7e-12],[0.31,1e-10],[0.5,2.8e-10],[1,3.5e-10],[2,2.3e-10],[4,1.2e-10],[6.3,5.6e-11],[8.8,1e-10],[13.5,4.8e-11]];
const tails38 = [
  [[18,5.8e-11],[25,5.2e-11],[35,4.8e-11],[50,4e-11],[80,2e-11],[110,1e-11],[130,7e-12]],
  [[18,5.5e-11],[25,5e-11],[40,4e-11],[70,2.2e-11],[100,1e-11],[125,7e-12]]
];

// source 40
const yDom40 = [6.3e-12, 5.4e-8];
const fit40 = [[0.113,6e-12],[0.13,4.2e-11],[0.14,8.1e-11],[0.155,4.7e-11],[0.185,4.2e-11],[0.22,5.2e-11],[0.26,1.02e-10],[0.28,2.0e-10],[0.34,2.8e-10],[0.41,3.7e-10],[0.53,3.5e-10],[0.69,3.0e-10],[0.98,2.6e-10],[1.4,2.5e-10],[1.98,2.7e-10],[2.36,2.95e-10],[3.36,1.9e-10],[4.8,1.15e-10],[6.8,8.1e-11],[8.9,8.1e-11],[11.5,6.3e-11],[14.3,4.4e-11],[16.5,5.5e-11],[23.5,6.3e-11],[33,5.9e-11],[47,4.2e-11],[67,2.4e-11],[95,1.1e-11],[117,6e-12]];
const star40 = [[0.113,6e-12],[0.13,3.8e-11],[0.14,7.4e-11],[0.155,4.3e-11],[0.185,3.9e-11],[0.22,4.8e-11],[0.26,9.5e-11],[0.28,1.9e-10],[0.34,2.7e-10],[0.41,3.5e-10],[0.53,3.4e-10],[0.7,2.9e-10],[1.0,2.5e-10],[1.4,1.4e-10],[2.0,6.3e-11],[2.8,2.5e-11],[3.7,1e-11],[4.2,6e-12]];
const obs40 = [[0.44,5.5e-10],[0.55,5.9e-10],[0.64,4.7e-10],[1.25,2.4e-10],[1.65,2.4e-10],[2.2,2.8e-10],[8.5,8.9e-11],[9,8.1e-11],[18,5.9e-11],[24,5.9e-11]];
const lim40 = [];

// source 41
const yDom41 = [1.15e-12, 1.15e-7];
const fit41 = [[0.47,1.1e-12],[0.58,7.2e-12],[0.75,3.0e-11],[1.05,1.1e-10],[1.47,2.0e-10],[1.89,1.66e-10],[2.65,1.1e-10],[3.7,8.9e-11],[5.2,1.1e-10],[7.3,2.2e-10],[10.2,3.4e-10],[14.2,1.9e-10],[19.7,1.45e-10],[27.4,1.1e-10],[38,1.66e-10],[53,2.75e-10],[68,3.1e-10],[87,2.6e-10],[120,1.45e-10],[180,4.7e-11],[280,1.3e-11],[400,3.1e-12],[470,1.1e-12]];
const star41 = [[0.46,1.1e-12],[0.57,1.3e-11],[0.8,8.1e-11],[1.15,1.9e-10],[1.5,2.3e-10],[2.0,1.66e-10],[2.9,8.1e-11],[5.2,1.7e-11],[8.6,4.2e-12],[13,1.1e-12]];
const obs41 = [[0.44,1.05e-11],[0.55,2.4e-11],[0.64,3.2e-11],[1.25,5e-11],[1.65,7.8e-11],[2.2,1.1e-10],[9,3.6e-10],[12,2.6e-10],[18,1.55e-10],[25,1.66e-10],[60,2.2e-10]];
const lim41 = [[100,1.23e-9]];

// source 42
const yDom42 = [6.5e-12, 2.45e-7];
const fit42 = [[0.3,6.3e-12],[0.34,2.9e-11],[0.4,1.35e-10],[0.52,3.8e-10],[0.67,6.5e-10],[0.94,8.7e-10],[1.2,9.5e-10],[1.55,7.4e-10],[2.0,5.0e-10],[2.56,2.95e-10],[3.6,1.78e-10],[5.0,1.2e-10],[6.5,8.5e-11],[7.7,6.6e-11],[8.4,9.3e-11],[9.9,1.78e-10],[11.7,2.6e-10],[15,6.5e-10],[19.3,8.7e-10],[27,1.02e-9],[38,1.41e-9],[49,1.58e-9],[63,1.41e-9],[88,7.4e-10],[123,2.6e-10],[173,8.1e-11],[242,2.2e-11],[312,6.3e-12]];
const star42 = [[0.3,6.3e-12],[0.34,3.7e-11],[0.44,2.3e-10],[0.61,6.5e-10],[0.94,9.5e-10],[1.2,1.02e-9],[1.8,5.6e-10],[3.0,2.3e-10],[5.0,1.2e-10],[7.0,6.3e-11],[9.0,3.3e-11],[10.7,1.74e-11],[12.7,6.3e-12]];
const obs42 = [[0.44,6.5e-10],[0.55,7.9e-10],[0.64,7.4e-10],[1.25,1.15e-9],[1.65,7.9e-10],[2.2,5.2e-10],[8.5,6.3e-11],[9,8.1e-11],[12,3.4e-10]];
const lim42 = [];

// ---------- registry of panels ----------
const withPrefix = (pre, tails) => tails.map(t => pre.concat(t));
const panelInfo = {
  "24": {yDom: yDom24, fit: fit24, star: star24, obs: obs24, lim: lim24, alt: withPrefix(pre24, tails24)},
  "27": {yDom: yDom27, fit: fit27, star: star27, obs: obs27, lim: lim27, alt: alt27},
  "30": {yDom: yDom30, fit: fit30, star: star30, obs: obs30, lim: lim30},
  "32": {yDom: yDom32, fit: fit32, star: star32, obs: obs32, lim: lim32},
  "33": {yDom: yDom33, fit: fit33, star: star33, obs: obs33, lim: lim33},
  "35": {yDom: yDom35, fit: fit35, star: star35, obs: obs35, lim: lim35, alt: alt35},
  "37": {yDom: yDom37, fit: fit37, star: star37, obs: obs37, lim: lim37},
  "39": {yDom: yDom39, fit: fit39, star: star39, obs: obs39, lim: lim39},
  "7":  {yDom: yDom7,  fit: fit7,  star: star7,  obs: obs7,  lim: lim7,  alt: alt7},
  "13": {yDom: yDom13, fit: fit13, star: star13, obs: obs13, lim: lim13},
  "21": {yDom: yDom21, fit: fit21, star: star21, obs: obs21, lim: lim21},
  "22": {yDom: yDom22, fit: fit22, star: star22, obs: obs22, lim: lim22, alt: alt22},
  "25": {yDom: yDom25, fit: fit25, star: star25, obs: obs25, lim: lim25, alt: withPrefix(pre25, tails25)},
  "26": {yDom: yDom26, fit: fit26, star: star26, obs: obs26, lim: lim26, alt: alt26},
  "28": {yDom: yDom28, fit: fit28, star: star28, obs: obs28, lim: lim28, alt: alt28, band: band28},
  "29": {yDom: yDom29, fit: fit29, star: star29, obs: obs29, lim: lim29, alt: withPrefix(pre29, tails29)},
  "31": {yDom: yDom31, fit: fit31, star: star31, obs: obs31, lim: lim31, alt: withPrefix(pre31, tails31)},
  "34": {yDom: yDom34, fit: fit34, star: star34, obs: obs34, lim: lim34, alt: withPrefix(pre34, tails34)},
  "36": {yDom: yDom36, fit: fit36, star: star36, obs: obs36, lim: lim36, alt: withPrefix(pre36, tails36)},
  "38": {yDom: yDom38, fit: fit38, star: star38, obs: obs38, lim: lim38, alt: withPrefix(pre38, tails38)},
  "40": {yDom: yDom40, fit: fit40, star: star40, obs: obs40, lim: lim40},
  "41": {yDom: yDom41, fit: fit41, star: star41, obs: obs41, lim: lim41},
  "42": {yDom: yDom42, fit: fit42, star: star42, obs: obs42, lim: lim42}
};

// ---------- page layout ----------
const gridRows = [
  {ids: ["24","27","30","32"], top: 44,  h: 138, lefts: [37,239,449,654], widths: [182,182,180,182]},
  {ids: ["33","35","37","39"], top: 209, h: 135, lefts: [37,239,449,654], widths: [182,182,181,182]},
  {ids: ["7","13","21","22"],  top: 436, h: 135, lefts: [37,239,449,654], widths: [182,182,181,182]},
  {ids: ["25","26","28","29"], top: 598, h: 136, lefts: [37,239,449,654], widths: [182,182,180,182]},
  {ids: ["31","34","36","38"], top: 764, h: 135, lefts: [37,238,448,654], widths: [180,181,179,182]},
  {ids: ["40","41","42"],      top: 928, h: 135, lefts: [150,342,546],    widths: [176,186,182]}
];
const yTitleIds = new Set(["24","33","7","25","31","40"]);

const svg = d3.select("#chart");
const defs = svg.append("defs");
const tickFont = "'Liberation Sans', Arial, sans-serif";

svg.append("text").attr("x", 377).attr("y", 24)
  .attr("font-family", "'Open Sans', sans-serif").attr("font-size", 23).attr("fill", "#111")
  .text("CLASS I");
svg.append("text").attr("x", 377).attr("y", 413)
  .attr("font-family", "'Open Sans', sans-serif").attr("font-size", 23).attr("fill", "#111")
  .text("CLASS II");

function styleAxis(sel) {
  sel.select(".domain").remove();
  sel.selectAll(".tick line").attr("stroke", "#000").attr("stroke-width", 0.7);
  sel.attr("font-family", tickFont).attr("font-size", 6.3).attr("font-weight", "bold");
}

function drawPanel(id, bx, by, bw, bh) {
  const P = panelInfo[id];
  const x = d3.scaleLog().domain(xDomain).range([0, bw]);
  const y = d3.scaleLog().domain(P.yDom).range([bh, 0]);
  const g = svg.append("g").attr("transform", `translate(${bx},${by})`);

  defs.append("clipPath").attr("id", "clip" + id)
    .append("rect").attr("width", bw).attr("height", bh);
  const plot = g.append("g").attr("clip-path", `url(#clip${id})`);
  const line = d3.line().x(d => x(d[0])).y(d => y(d[1])).curve(d3.curveMonotoneX);

  (P.band || []).forEach(a => plot.append("path").attr("d", line(a))
    .attr("fill", "none").attr("stroke", "#bdbdbd").attr("stroke-width", 3));
  (P.alt || []).forEach(a => plot.append("path").attr("d", line(a))
    .attr("fill", "none").attr("stroke", "#cacaca").attr("stroke-width", 1.1));

  plot.append("path").attr("d", line(P.star))
    .attr("fill", "none").attr("stroke", "#000").attr("stroke-width", 1)
    .attr("stroke-dasharray", "4,3");
  plot.append("path").attr("d", line(P.fit))
    .attr("fill", "none").attr("stroke", "#000").attr("stroke-width", 1.3)
    .attr("stroke-linejoin", "round");

  plot.selectAll("circle.obs").data(P.obs).join("circle").attr("class", "obs")
    .attr("cx", d => x(d[0])).attr("cy", d => y(d[1])).attr("r", 2.5).attr("fill", "#000");
  plot.selectAll("path.lim").data(P.lim).join("path").attr("class", "lim")
    .attr("d", d3.symbol(d3.symbolTriangle, 22))
    .attr("transform", d => `translate(${x(d[0])},${y(d[1])}) rotate(180)`)
    .attr("fill", "#000");

  // axes: major and minor ticks on all four sides, pointing inward
  const xMinor = x.ticks();
  const yAll = y.ticks();
  const yMajor = yAll.filter(v => Math.abs(Math.log10(v) - Math.round(Math.log10(v))) < 1e-6);

  g.append("g").attr("transform", `translate(0,${bh})`)
    .call(d3.axisBottom(x).tickValues(xMinor).tickSize(-2).tickFormat("")).call(styleAxis);
  g.append("g").attr("transform", `translate(0,${bh})`)
    .call(d3.axisBottom(x).tickValues(xTickValues).tickSize(-4).tickPadding(1.5)
      .tickFormat((d, i) => xTickLabels[i])).call(styleAxis);
  g.append("g")
    .call(d3.axisTop(x).tickValues(xMinor).tickSize(-2).tickFormat("")).call(styleAxis);
  g.append("g")
    .call(d3.axisTop(x).tickValues(xTickValues).tickSize(-4).tickFormat("")).call(styleAxis);

  g.append("g").call(d3.axisLeft(y).tickValues(yAll).tickSize(-2).tickFormat("")).call(styleAxis);
  const yl = g.append("g").call(d3.axisLeft(y).tickValues(yMajor).tickSize(-4).tickPadding(3)
    .tickFormat(() => "10")).call(styleAxis);
  yl.selectAll(".tick text").append("tspan")
    .attr("dy", "-0.5em").attr("font-size", 4.6)
    .text(d => "−" + Math.round(-Math.log10(d)));
  g.append("g").attr("transform", `translate(${bw},0)`)
    .call(d3.axisRight(y).tickValues(yAll).tickSize(-2).tickFormat("")).call(styleAxis);
  g.append("g").attr("transform", `translate(${bw},0)`)
    .call(d3.axisRight(y).tickValues(yMajor).tickSize(-4).tickFormat("")).call(styleAxis);

  g.append("rect").attr("width", bw).attr("height", bh)
    .attr("fill", "none").attr("stroke", "#000").attr("stroke-width", 1);

  g.append("text").attr("x", bw / 2).attr("y", 12).attr("text-anchor", "middle")
    .attr("font-family", tickFont).attr("font-size", 7).attr("font-weight", "bold")
    .text(id);

  g.append("text").attr("x", bw / 2).attr("y", bh + 14.5).attr("text-anchor", "middle")
    .attr("font-family", tickFont).attr("font-size", 7).attr("font-weight", "bold")
    .text("λ (μm)");

  if (yTitleIds.has(id)) {
    const t = g.append("text")
      .attr("transform", `translate(-21,${bh / 2}) rotate(-90)`)
      .attr("text-anchor", "middle")
      .attr("font-family", tickFont).attr("font-size", 7).attr("font-weight", "bold");
    t.append("tspan").text("λF");
    t.append("tspan").attr("dy", 1.8).attr("font-size", 5).text("λ");
    t.append("tspan").attr("dy", -1.8).text(" (ergs/cm");
    t.append("tspan").attr("dy", -2.6).attr("font-size", 5).text("2");
    t.append("tspan").attr("dy", 2.6).text("/s)");
  }
}

gridRows.forEach(row => {
  row.ids.forEach((id, i) => drawPanel(id, row.lefts[i], row.top, row.widths[i], row.h));
});
</script>
</body>
</html>
